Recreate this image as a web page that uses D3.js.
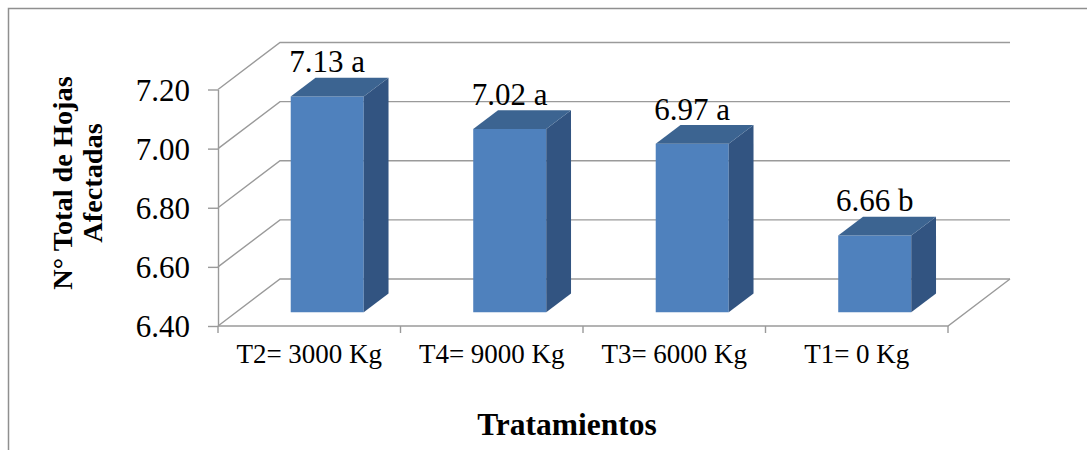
<!DOCTYPE html>
<html>
<head>
<meta charset="utf-8">
<script src="https://cdn.jsdelivr.net/npm/d3@7/dist/d3.min.js"></script>
<style>
  html, body { margin: 0; padding: 0; background: #ffffff; }
  svg { display: block; }
  text { font-family: "Liberation Serif", "Times New Roman", serif; fill: #000; }
</style>
</head>
<body>
<svg id="chart" width="1087" height="450"></svg>
<script>
// Treatments and mean number of affected leaves
const categories = ["T2= 3000 Kg", "T4= 9000 Kg", "T3= 6000 Kg", "T1= 0 Kg"];
const values = [7.13, 7.02, 6.97, 6.66];
const letters = ["a", "a", "a", "b"];
const yTicks = [6.40, 6.60, 6.80, 7.00, 7.20];
const yTitle = ["N° Total de Hojas", "Afectadas"];
const xTitle = "Tratamientos";

const serif = "'Liberation Serif', 'Times New Roman', serif";
const svg = d3.select("#chart");

// Frame around the chart area
svg.append("rect")
  .attr("x", 8.5).attr("y", 8.5)
  .attr("width", 1200).attr("height", 600)
  .attr("fill", "none").attr("stroke", "#8f8f8f").attr("stroke-width", 1.5);

// Plot geometry (front plane) and the oblique depth offset
const plotLeft = 218, plotRight = 948, plotBottom = 326, plotTop = 89.5;
const depthX = 62, depthY = 47;
const zFront = 0.29, zBack = 0.69;

const x = d3.scaleBand().domain(categories).range([plotLeft, plotRight]).paddingInner(0).paddingOuter(0);
const y = d3.scaleLinear().domain([6.40, 7.20]).range([plotBottom, plotTop]);

const proj = (px, v, z) => [px + depthX * z, y(v) - depthY * z];

const gridColor = "#9a9a9a";
const grid = svg.append("g").attr("fill", "none").attr("stroke", gridColor).attr("stroke-width", 1.4);

// Left wall diagonals and back wall gridlines
yTicks.forEach(t => {
  const a = proj(plotLeft, t, 0), b = proj(plotLeft, t, 1), c = proj(plotRight, t, 1);
  grid.append("path").attr("d", d3.line()([a, b, c]));
});
// Floor: right edge and front edge
{
  const a = proj(plotRight, yTicks[0], 1), b = proj(plotRight, yTicks[0], 0), c = proj(plotLeft, yTicks[0], 0);
  grid.append("path").attr("d", d3.line()([a, b, c]));
}

// Front value axis
const yAxis = svg.append("g")
  .attr("transform", `translate(${plotLeft},0)`)
  .call(d3.axisLeft(y).tickValues(yTicks).tickSize(10).tickSizeOuter(0).tickPadding(18).tickFormat(d3.format(".2f")))
  .attr("font-family", serif).attr("font-size", 31);
yAxis.select(".domain").attr("stroke", gridColor).attr("stroke-width", 1.4);
yAxis.selectAll(".tick line").attr("stroke", gridColor).attr("stroke-width", 1.4);
yAxis.selectAll(".tick text").attr("fill", "#000").attr("dy", "0.34em");

// Category boundary ticks
const bounds = categories.map(c => x(c)).concat([x(categories[categories.length - 1]) + x.bandwidth()]);
svg.append("g").selectAll("line").data(bounds).join("line")
  .attr("x1", d => d).attr("x2", d => d)
  .attr("y1", plotBottom).attr("y2", plotBottom + 7)
  .attr("stroke", gridColor).attr("stroke-width", 1.4);

// Category labels
const xAxis = svg.append("g")
  .attr("transform", `translate(0,${plotBottom})`)
  .call(d3.axisBottom(x).tickSize(0).tickPadding(32))
  .attr("font-family", serif).attr("font-size", 27);
xAxis.select(".domain").remove();
xAxis.selectAll(".tick text").attr("fill", "#000").attr("dy", "0.2em");

// 3D bars
const barW = x.bandwidth() * 0.4;
const colFront = "#4f81bd", colTop = "#3c6491", colSide = "#325481";
const bars = svg.append("g");
const labels = svg.append("g").attr("font-family", serif).attr("font-size", 31);
categories.forEach((c, i) => {
  const x0 = x(c) + (x.bandwidth() - barW) / 2;
  const x1 = x0 + barW;
  const v = values[i], v0 = yTicks[0];
  const g = bars.append("g");
  const line = d3.line();
  // front face
  g.append("path").attr("fill", colFront)
    .attr("d", line([proj(x0, v0, zFront), proj(x1, v0, zFront), proj(x1, v, zFront), proj(x0, v, zFront)]) + "Z");
  // side face
  g.append("path").attr("fill", colSide)
    .attr("d", line([proj(x1, v0, zFront), proj(x1, v0, zBack), proj(x1, v, zBack), proj(x1, v, zFront)]) + "Z");
  // top face
  g.append("path").attr("fill", colTop)
    .attr("d", line([proj(x0, v, zFront), proj(x1, v, zFront), proj(x1, v, zBack), proj(x0, v, zBack)]) + "Z");
  // value label
  const cx = (x0 + x1) / 2 + depthX * zFront;
  const ty = proj(x0, v, zBack)[1] - 5.5;
  labels.append("text")
    .attr("x", cx).attr("y", ty)
    .attr("text-anchor", "middle")
    .text(d3.format(".2f")(v) + " " + letters[i]);
});

// Axis titles
svg.append("text")
  .attr("x", 567).attr("y", 435)
  .attr("text-anchor", "middle")
  .attr("font-family", serif)
  .attr("font-size", 31.5).attr("font-weight", "bold")
  .text(xTitle);

const yt = svg.append("text")
  .attr("transform", "translate(0,183) rotate(-90)")
  .attr("text-anchor", "middle")
  .attr("font-family", serif)
  .attr("font-size", 28.3).attr("font-weight", "bold");
yTitle.forEach((s, i) => {
  yt.append("tspan").attr("x", 0).attr("y", 71.5 + i * 30).text(s);
});
</script>
</body>
</html>
